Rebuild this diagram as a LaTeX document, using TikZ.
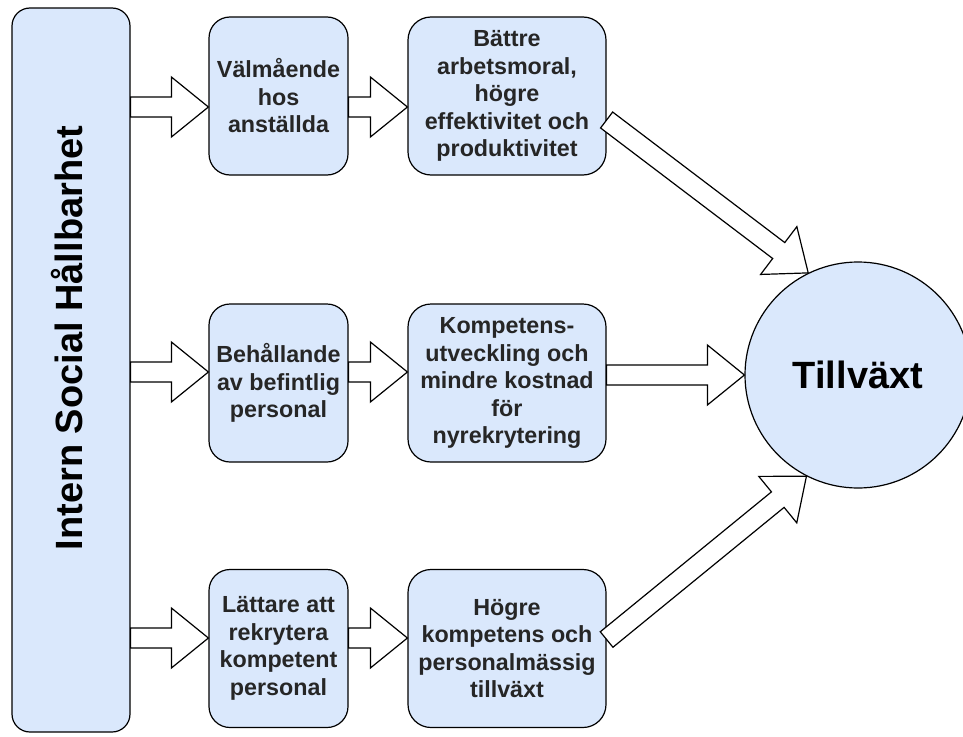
\documentclass[tikz,border=0pt]{standalone}
\usepackage{fontspec}
\setmainfont{Liberation Sans}
\usetikzlibrary{calc}

\definecolor{boxblue}{HTML}{DAE8FC}

% hollow block arrow from #1 to #2
\newcommand{\fatarrow}[2]{%
  \coordinate (fa) at (#1);
  \coordinate (fb) at (#2);
  \coordinate (hb) at ($(fb)!37pt!(fa)$);
  \draw[fat] ($(fa)!10pt!90:(fb)$) -- ($(hb)!10pt!90:(fb)$) -- ($(hb)!30pt!90:(fb)$)
    -- (fb) -- ($(hb)!30pt!-90:(fb)$) -- ($(hb)!10pt!-90:(fb)$) -- ($(fa)!10pt!-90:(fb)$) -- cycle;
}

\begin{document}
\begin{tikzpicture}
  [x=1pt,y=-1pt,
   box/.style={draw,fill=boxblue,line width=1.2pt,rounded corners=21pt,align=center,
     inner sep=0pt,minimum width=139pt,minimum height=158pt,text=black!85,
     font=\fontsize{23.3}{27.5}\selectfont\bfseries},
   widebox/.style={box,minimum width=198pt,rounded corners=23pt},
   bigbox/.style={draw,fill=boxblue,line width=1.2pt,rounded corners=18pt,
     minimum width=118pt,minimum height=724pt},
   title/.style={font=\fontsize{38}{44}\selectfont\bfseries},
   fat/.style={draw,fill=white,line width=1.2pt}]
  \useasboundingbox (0,0) rectangle (963,736);
  \clip (0,0) rectangle (963,736);

  \node[bigbox] (isoh) at (71,370) {};
  \node[title,rotate=90] (isohtext) at (67,338) {Intern Social Hållbarhet};

  \node[box] (valm) at (278.5,96) {Välmående\\hos\\anställda};
  \node[box] (behall) at (278.5,383) {Behållande\\av befintlig\\personal};
  \node[box] (latt) at (278.5,648.5) {Lättare att\\rekrytera\\kompetent\\personal};

  \node[widebox] (battre) at (507,96) {Bättre\\arbetsmoral,\\högre\\effektivitet och\\produktivitet};
  \node[widebox] (komp) at (507,383) {Kompetens-\\utveckling och\\mindre kostnad\\för\\nyrekrytering};
  \node[widebox] (hogre) at (507,648.5) {Högre\\kompetens och\\personalmässig\\tillväxt};

  \node[circle,draw,fill=boxblue,line width=1.2pt,minimum size=226pt,inner sep=0pt,title] (tv) at (858,375) {Tillväxt};

  \coordinate (row1) at (0,107);
  \coordinate (row2) at (0,372);
  \coordinate (row3) at (0,638);
  \coordinate (battreout) at ([yshift=-24pt]battre.east);
  \coordinate (hogreout) at ([yshift=9pt]hogre.east);

  \foreach \from/\to in {isoh.east |- row1/valm.west |- row1, valm.east |- row1/battre.west |- row1,
      isoh.east |- row2/behall.west |- row2, behall.east |- row2/komp.west |- row2,
      isoh.east |- row3/latt.west |- row3, latt.east |- row3/hogre.west |- row3,
      battreout/tv.116, komp.east |- tv.west/tv.west, hogreout/tv.243}
    \fatarrow{\from}{\to};

\end{tikzpicture}
\end{document}
